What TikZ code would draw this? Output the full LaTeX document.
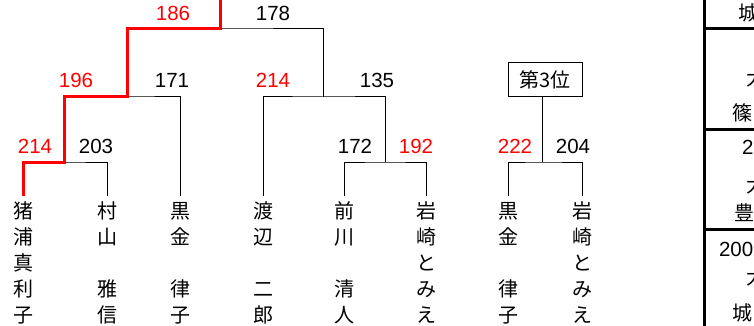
\documentclass[tikz,border=0pt]{standalone}
\usepackage{fontspec}
\setmainfont{Noto Sans CJK JP}
\newfontfamily\digitfont{Liberation Sans}
\begin{document}
\begin{tikzpicture}[x=1pt,y=-1pt,
  every node/.style={inner sep=0pt, outer sep=0pt, font=\fontsize{20}{26}\selectfont},
  nm/.style={anchor=north, align=center, outer ysep=6pt},
  sc/.style={anchor=base, font=\digitfont\fontsize{20.5}{26}\selectfont},
  wsc/.style={sc, text=red},
  ln/.style={line width=1pt, black},
  wln/.style={line width=3pt, red},
  tb/.style={line width=3pt, black},
  tt/.style={anchor=base west},
  td/.style={anchor=base west, font=\digitfont\fontsize{20.5}{26}\selectfont},
  rank/.style={draw, line width=1pt, minimum width=74pt, minimum height=34pt}]
\useasboundingbox (0,0) rectangle (754,326);
\clip (0,0) rectangle (754,326);

% leaf names
\node[nm] (n1) at (23,196) {猪\\浦\\真\\利\\子};
\node[nm] (n2) at (107,196) {村\\山\\\strut\\雅\\信};
\node[nm] (n3) at (180,196) {黒\\金\\\strut\\律\\子};
\node[nm] (n4) at (263,196) {渡\\辺\\\strut\\二\\郎};
\node[nm] (n5) at (344,196) {前\\川\\\strut\\清\\人};
\node[nm] (n6) at (426,196) {岩\\崎\\と\\み\\え};
\node[nm] (n7) at (508,196) {黒\\金\\\strut\\律\\子};
\node[nm] (n8) at (582,196) {岩\\崎\\と\\み\\え};

% junctions
\coordinate (top) at (220,-3);
\coordinate (s1) at (64,162);
\coordinate (s2) at (127,97);
\coordinate (s3) at (220,29);
\coordinate (s4) at (323,97);
\coordinate (s5) at (385,162);
\coordinate (s6) at (542,162);

% third place box
\node[rank] (third) at (545,80) {第3位};

% black bracket lines
\draw[ln] (n1.north) |- (s1) -| (n2.north);
\draw[ln] (s1) |- (s2) -| (n3.north);
\draw[ln] (s2) |- (s3) -| (s4);
\draw[ln] (n4.north) |- (s4) -| (s5);
\draw[ln] (n5.north) |- (s5) -| (n6.north);
\draw[ln] (n7.north) |- (s6) -| (n8.north);
\draw[ln] (s6) -- (s6 |- third.south);

% winning path
\draw[wln] (top) -- (s3) -| (s2) -| (s1) -| (n1.north);

% scores
\node[wsc] (c186) at (173,20.5) {186};
\node[sc]  (c178) at (273,20.5) {178};
\node[wsc] (c196) at (76,87.5) {196};
\node[sc]  (c171) at (172,87.5) {171};
\node[wsc] (c214b) at (273,87.5) {214};
\node[sc]  (c135) at (377,87.5) {135};
\node[wsc] (c214a) at (35,153.5) {214};
\node[sc]  (c203) at (96,153.5) {203};
\node[sc]  (c172) at (355,153.5) {172};
\node[wsc] (c192) at (416,153.5) {192};
\node[wsc] (c222) at (515,153.5) {222};
\node[sc]  (c204) at (573,153.5) {204};

% right table (cut off)
\draw[tb] (704,-2) -- (704,330);
\draw[tb] (704,29) -- (760,29);
\draw[tb] (704,129) -- (760,129);
\draw[tb] (704,229) -- (760,229);
\node[tt] (r1) at (738,20.5) {城};
\node[tt] (r2) at (746,86) {大};
\node[tt] (r3) at (732,120.5) {篠};
\node[td] (r4) at (742,154.5) {2};
\node[tt] (r5) at (746,192.5) {大};
\node[tt] (r6) at (734,220.5) {豊};
\node[td] (r7) at (719,256) {2009};
\node[tt] (r8) at (746,284.5) {大};
\node[tt] (r9) at (732,320.5) {城};
\end{tikzpicture}
\end{document}
